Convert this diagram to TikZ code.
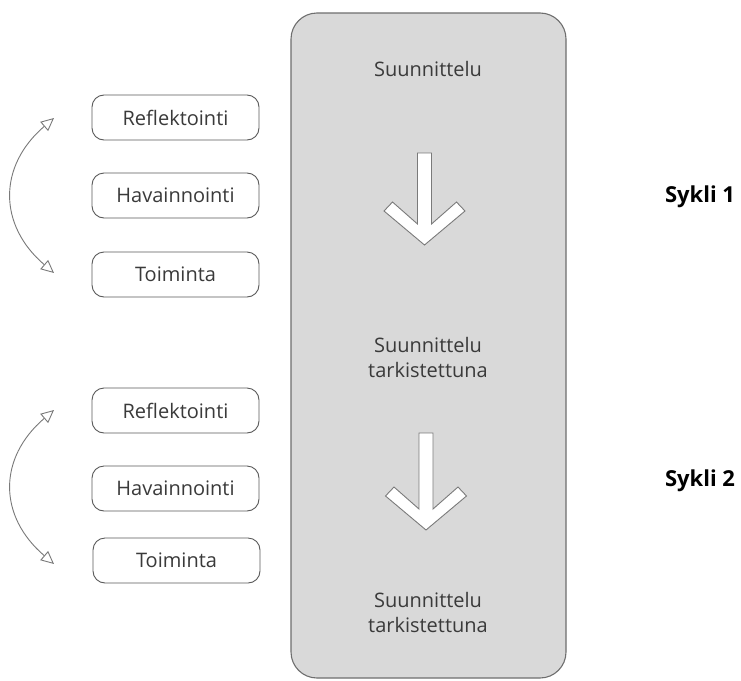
\documentclass[tikz,border=0pt]{standalone}
\usepackage{fontspec}
\setmainfont{Open Sans}
\usetikzlibrary{arrows.meta}
\definecolor{panelfill}{HTML}{D9D9D9}
\definecolor{paneledge}{HTML}{6E6E6E}
\definecolor{boxedge}{HTML}{5A5A5A}
\definecolor{txtgray}{HTML}{3A3A3A}
\definecolor{arrowedge}{HTML}{7A7A7A}
\begin{document}
\begin{tikzpicture}[x=1pt,y=-1pt,
  smallbox/.style={draw=boxedge, line width=0.9pt, rounded corners=12pt,
    minimum width=167pt, minimum height=45pt, inner sep=0pt,
    font=\fontsize{20}{24}\selectfont, text=txtgray},
  bigpanel/.style={draw=paneledge, fill=panelfill, line width=1.1pt,
    rounded corners=26pt, minimum width=275pt, minimum height=665pt, inner sep=0pt},
  paneltext/.style={font=\fontsize{20}{25}\selectfont, text=txtgray, align=center, inner sep=0pt},
  cyclelabel/.style={font=\fontsize{22}{26}\selectfont\bfseries, text=black, inner sep=0pt},
  cyclearrow/.style={draw=arrowedge, line width=0.9pt,
    {Triangle[open, length=13pt, width=12pt]}-{Triangle[open, length=13pt, width=12pt]}},
  bigarrow/.style={draw=arrowedge, fill=white, line width=0.9pt, line join=miter},
  pics/downarr/.style={code={
    \path[bigarrow] (-7,-#1) -- (7,-#1) -- (7,-21) -- (32,-43) -- (40.5,-34) -- (0,0)
      -- (-40.5,-34) -- (-32,-43) -- (-7,-21) -- cycle;}}
  ]
\useasboundingbox (0,0) rectangle (741,680);
\fill[white] (0,0) rectangle (741,680);

% central panel
\node[bigpanel] (panel) at (428.5,345.5) {};
\node[paneltext] (plan0) at (428,69) {Suunnittelu};
\node[paneltext] (plan1) at (428,357.5) {Suunnittelu\\tarkistettuna};
\node[paneltext] (plan2) at (428,612) {Suunnittelu\\tarkistettuna};
\pic at (424.5,245) {downarr=92};
\pic at (426,530) {downarr=97};

% cycle 1
\node[smallbox] (refl1) at (175.5,117.5) {Reflektointi};
\node[smallbox] (hav1) at (175.5,195.5) {Havainnointi};
\node[smallbox] (toim1) at (175.5,274.5) {Toiminta};
\coordinate (c1top) at (54,118);
\coordinate (c1bot) at (54,273);
\draw[cyclearrow] (c1top) .. controls (-2,166) and (-2,225) .. (c1bot);

% cycle 2
\node[smallbox] (refl2) at (175.5,410.5) {Reflektointi};
\node[smallbox] (hav2) at (175.5,488.5) {Havainnointi};
\node[smallbox] (toim2) at (176.5,560.5) {Toiminta};
\coordinate (c2top) at (54,410);
\coordinate (c2bot) at (54,564);
\draw[cyclearrow] (c2top) .. controls (-2,458) and (-2,516) .. (c2bot);

% labels
\node[cyclelabel] (sykli1) at (700,197) {Sykli 1};
\node[cyclelabel] (sykli2) at (700,481) {Sykli 2};
\end{tikzpicture}
\end{document}
